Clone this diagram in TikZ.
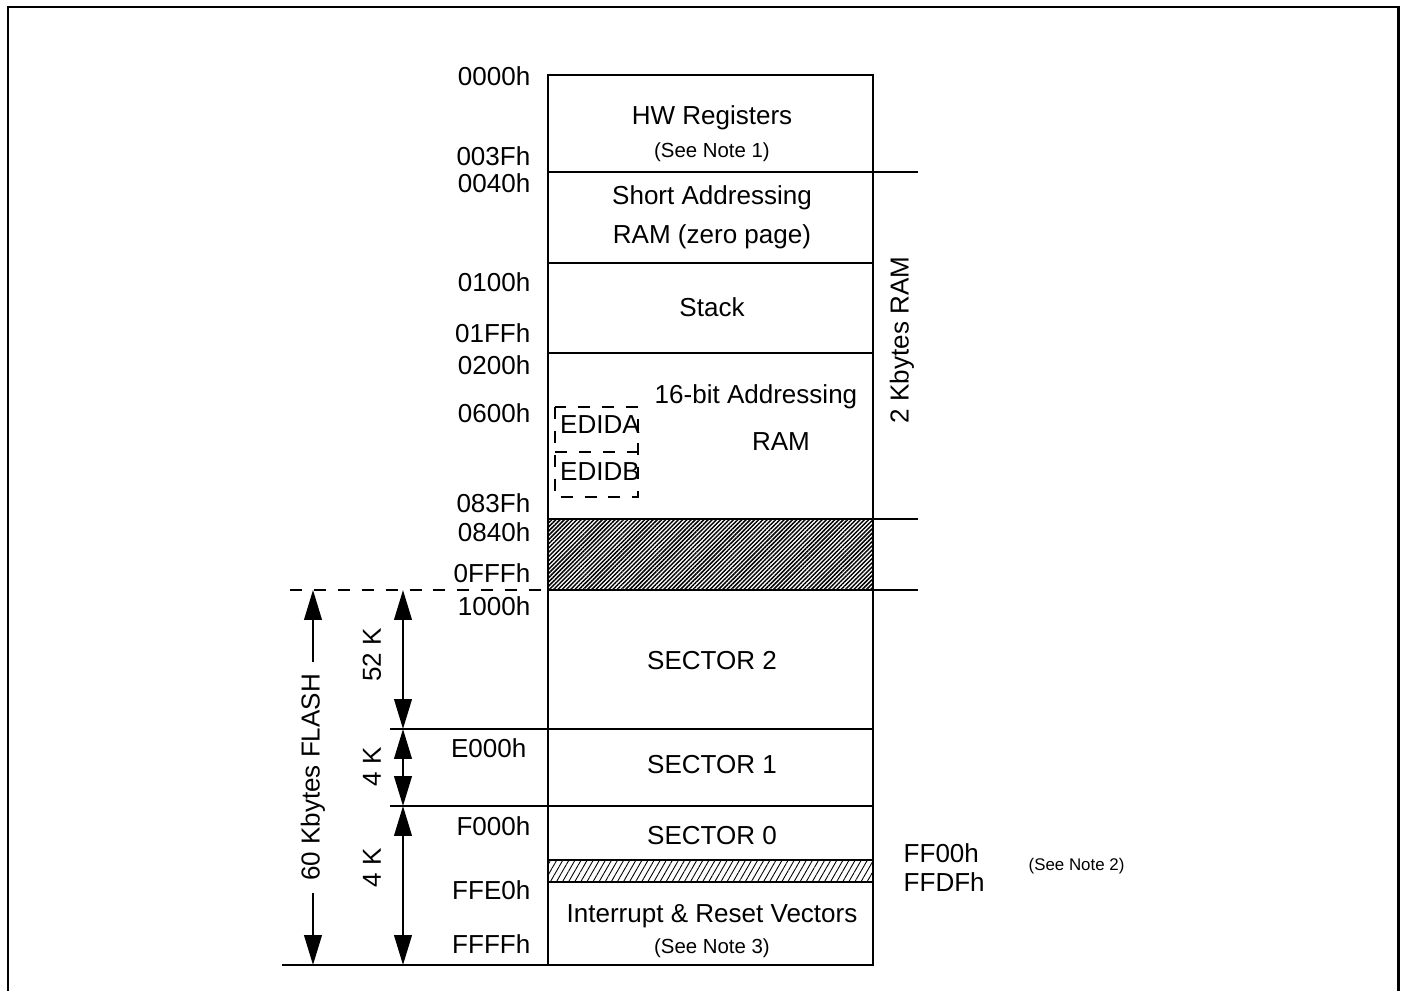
\documentclass[tikz,border=0pt]{standalone}
\usepackage{fontspec}
\setmainfont{Liberation Sans}
\usetikzlibrary{arrows.meta, patterns.meta}

\begin{document}
\begin{tikzpicture}[x=0.01cm, y=-0.01cm,
        font=\fontsize{7.4}{8.8}\selectfont,
        lbl/.style={inner sep=0pt},
        addr/.style={inner sep=0pt, anchor=east},
        note/.style={inner sep=0pt, font=\fontsize{5.8}{7}\selectfont},
        memln/.style={line width=0.6pt},
        dashln/.style={line width=0.6pt, dash pattern=on 3.4pt off 3.4pt},
        dimarr/.style={{Triangle[length=8.5pt,width=5pt]}-{Triangle[length=8.5pt,width=5pt]}, line width=0.6pt},
        dense/.style={pattern={Lines[angle=45, distance=0.85pt, line width=0.42pt]}},
        sparse/.style={pattern={Lines[angle=60, distance=1.5pt, line width=0.25pt]}}
    ]
    \useasboundingbox (0,0) rectangle (1402,991);
    % outer frame
    \draw[line width=0.85pt] (8,991) -- (8,7) -- (1398,7) -- (1398,991);

    % hatched areas
    \fill[dense] (548,519) rectangle (873,590);
    \fill[sparse] (548,860) rectangle (873,882);

    % memory column
    \draw[memln] (548,75) rectangle (873,965);
    \draw[memln] (548,172) -- (918,172);
    \draw[memln] (548,263) -- (873,263);
    \draw[memln] (548,353) -- (873,353);
    \draw[memln] (548,519) -- (918,519);
    \draw[memln] (548,590) -- (918,590);
    \draw[memln] (390,729) -- (873,729);
    \draw[memln] (390,806) -- (873,806);
    \draw[memln] (548,860) -- (873,860);
    \draw[memln] (548,882) -- (873,882);
    \draw[memln] (282,965) -- (873,965);
    \draw[dashln] (290,590) -- (548,590);

    % EDID area
    \draw[dashln] (555,407) rectangle (638,497);
    \draw[dashln] (555,452) -- (638,452);
    \node[lbl] (edida) at (600,425) {EDIDA};
    \node[lbl] (edidb) at (600,472) {EDIDB};

    % block texts
    \node[lbl] (hwreg) at (712,118) {HW Registers};
    \node[note] (note1) at (712,152) {(See Note 1)};
    \node[lbl] (zpage1) at (712,198) {Short Addressing};
    \node[lbl] (zpage2) at (712,237) {RAM (zero page)};
    \node[lbl] (stack) at (712,307) {Stack};
    \node[lbl] (ram16a) at (756,397) {16-bit Addressing};
    \node[lbl] (ram16b) at (781,442) {RAM};
    \node[lbl] (sec2) at (712,661) {SECTOR 2};
    \node[lbl] (sec1) at (712,765) {SECTOR 1};
    \node[lbl] (sec0) at (712,836) {SECTOR 0};
    \node[lbl] (vect) at (712,916) {Interrupt \& Reset Vectors};
    \node[note] (note3) at (712,948) {(See Note 3)};

    % addresses
    \node[addr] (a0000) at (531,76) {0000h};
    \node[addr] (a003f) at (531,156) {003Fh};
    \node[addr] (a0040) at (531,183) {0040h};
    \node[addr] (a0100) at (531,282) {0100h};
    \node[addr] (a01ff) at (531,333) {01FFh};
    \node[addr] (a0200) at (531,365) {0200h};
    \node[addr] (a0600) at (531,413) {0600h};
    \node[addr] (a083f) at (531,503) {083Fh};
    \node[addr] (a0840) at (531,532) {0840h};
    \node[addr] (a0fff) at (531,573) {0FFFh};
    \node[addr] (a1000) at (531,606) {1000h};
    \node[addr] (ae000) at (527,748) {E000h};
    \node[addr] (af000) at (531,826) {F000h};
    \node[addr] (affe0) at (531,890) {FFE0h};
    \node[addr] (affff) at (531,944) {FFFFh};
    \node[lbl, anchor=west] (aff00) at (903,853) {FF00h};
    \node[lbl, anchor=west] (affdf) at (903,882) {FFDFh};
    \node[note, anchor=west, font=\fontsize{4.8}{6}\selectfont] (note2) at (1028,866) {(See Note 2)};

    % size arrows
    \coordinate (fltop) at (313,590);
    \coordinate (flbot) at (313,965);
    \coordinate (s2top) at (403,590);
    \coordinate (s1top) at (403,729);
    \coordinate (s0top) at (403,806);
    \coordinate (s0bot) at (403,965);
    \draw[dimarr] (fltop) -- node[fill=white, rotate=90, inner xsep=0.12cm, inner ysep=0pt] (flash) {60 Kbytes FLASH} (flbot);
    \draw[dimarr] (s2top) -- (s1top);
    \draw[dimarr] (s1top) -- (s0top);
    \draw[dimarr] (s0top) -- (s0bot);
    \node[lbl, rotate=90] (k52) at (372,655) {52 K};
    \node[lbl, rotate=90] (k4a) at (372,767) {4 K};
    \node[lbl, rotate=90] (k4b) at (372,868) {4 K};
    \node[lbl, rotate=90] (ram2k) at (902,340) {2 Kbytes RAM};
\end{tikzpicture}
\end{document}
